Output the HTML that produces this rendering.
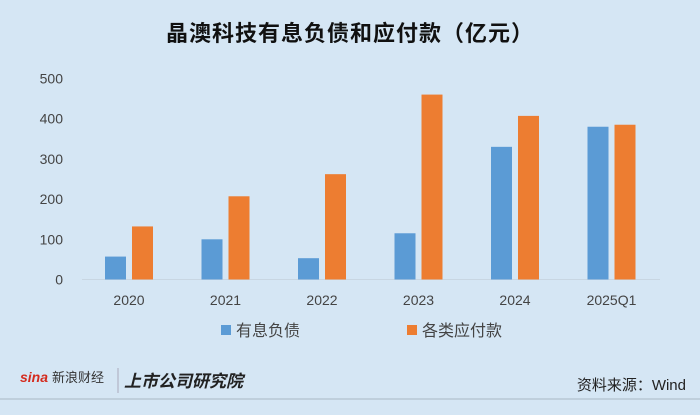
<!DOCTYPE html>
<html><head><meta charset="utf-8"><style>
html,body{margin:0;padding:0;}
body{width:700px;height:415px;background:#d5e6f4;font-family:"Liberation Sans","Noto Sans CJK SC",sans-serif;position:relative;overflow:hidden;}
</style></head><body>
<svg width="700" height="415" xmlns="http://www.w3.org/2000/svg" style="position:absolute;left:0;top:0">
<rect width="700" height="415" fill="#d5e6f4"/>
<text x="350" y="41" text-anchor="middle" font-size="22" font-weight="bold" fill="#111" letter-spacing="1" font-family="Liberation Sans,Noto Sans CJK SC,sans-serif">晶澳科技有息负债和应付款（亿元）</text>
<g id="axes"></g>
<g id="bars"></g>
<g id="legend" font-size="16" fill="#444" font-family="Liberation Sans,Noto Sans CJK SC,sans-serif">
<rect x="221" y="325" width="10" height="10" fill="#5b9bd5"/>
<text x="236" y="336">有息负债</text>
<rect x="407" y="325" width="10" height="10" fill="#ed7d31"/>
<text x="422" y="336">各类应付款</text>
</g>
<line x1="0" y1="399" x2="700" y2="399" stroke="#a9b8c4" stroke-width="1"/>
<g>
<text x="20" y="382" font-size="14" font-weight="bold" font-style="italic" fill="#d42b1e">sina</text>
<text x="52" y="382" font-size="13" fill="#333" font-family="Liberation Sans,Noto Sans CJK SC,sans-serif">新浪财经</text>
<line x1="86" y1="368" x2="86" y2="393" stroke="#aab" stroke-width="1" opacity="0"/>
<line x1="118" y1="368" x2="118" y2="393" stroke="#aab" stroke-width="1"/>
<text x="124" y="387" font-size="17" font-weight="bold" font-style="italic" fill="#222" font-family="Liberation Sans,Noto Sans CJK SC,sans-serif">上市公司研究院</text>
</g>
<text x="686" y="390" text-anchor="end" font-size="15" fill="#222" font-family="Liberation Sans,Noto Sans CJK SC,sans-serif">资料来源：Wind</text>
</svg>
<script>
const categories = ["2020","2021","2022","2023","2024","2025Q1"];
const debtValues = [57, 100, 53, 115, 330, 380];
const payableValues = [132, 207, 262, 460, 407, 385];
const yTicks = [0,100,200,300,400,500];
const NS="http://www.w3.org/2000/svg";
const y0=279.5, pxPer=40.2/100, x0=129, step=96.5, bw=21, gap=6;
const yS=v=>y0-v*pxPer;
const xC=i=>x0+i*step;
const axes=document.getElementById('axes'), bars=document.getElementById('bars');
function mk(tag,attrs,parent){const e=document.createElementNS(NS,tag);for(const k in attrs)e.setAttribute(k,attrs[k]);parent.appendChild(e);return e;}
yTicks.forEach(t=>{
  const e=mk('text',{x:63,y:yS(t)+5,'text-anchor':'end','font-size':14,fill:'#444'},axes);
  e.textContent=t;
  
  
});
const base=mk('line',{x1:82,y1:y0,x2:660,y2:y0,stroke:'#c8d6e2','stroke-width':1},axes);


categories.forEach((c,i)=>{
  const t=mk('text',{x:xC(i),y:305,'text-anchor':'middle','font-size':14,fill:'#444'},axes);
  t.textContent=c;
  
  
  const b1=mk('rect',{x:xC(i)-gap/2-bw,y:yS(debtValues[i]),width:bw,height:debtValues[i]*pxPer,fill:'#5b9bd5'},bars);
  
  
  const b2=mk('rect',{x:xC(i)+gap/2,y:yS(payableValues[i]),width:bw,height:payableValues[i]*pxPer,fill:'#ed7d31'},bars);
  
  
});
</script>
</body></html>
